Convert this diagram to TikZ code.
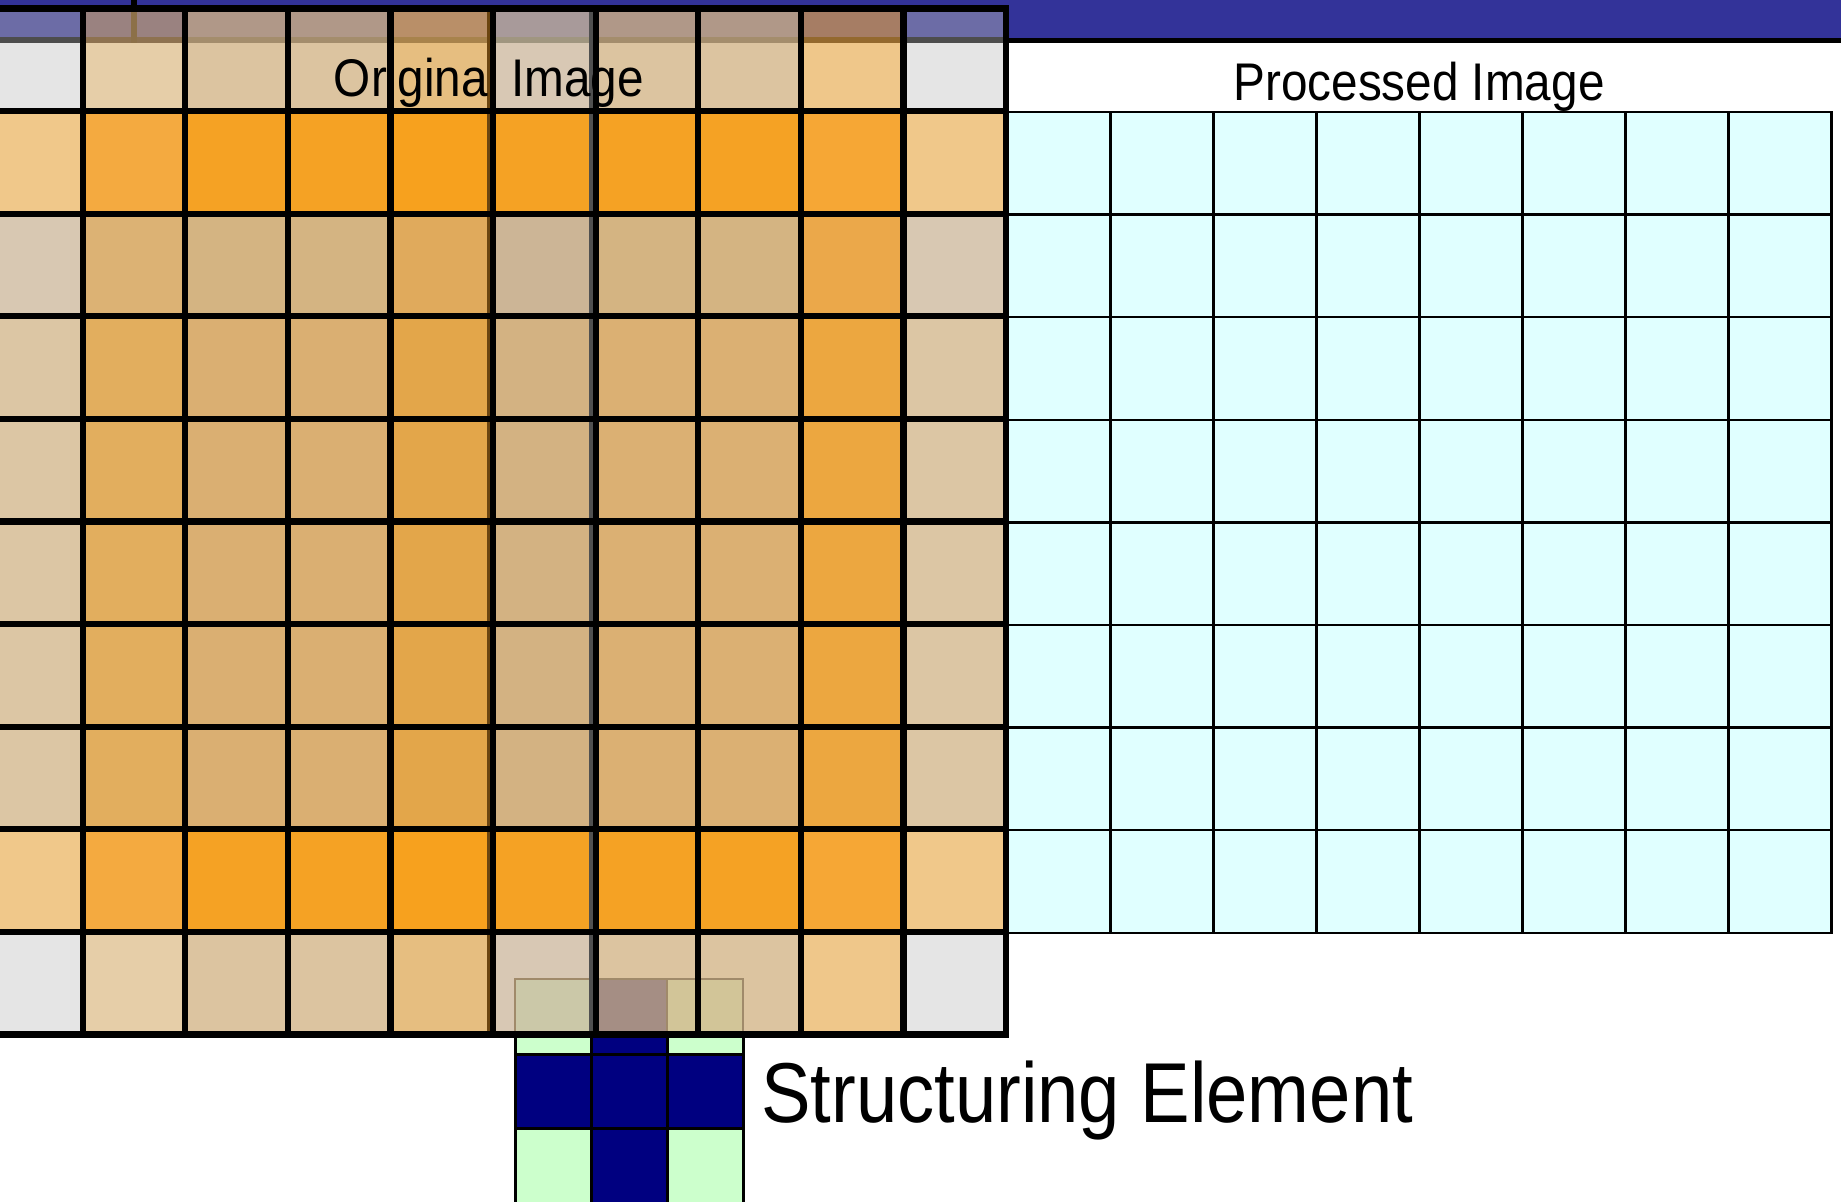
\documentclass[tikz,border=0pt]{standalone}
\usepackage{fontspec}
\setmainfont{Liberation Sans}
\definecolor{barblue}{HTML}{333399}
\definecolor{proccyan}{HTML}{E0FFFF}
\definecolor{senavy}{HTML}{000080}
\definecolor{segreen}{HTML}{CCFFCC}
\definecolor{cG}{HTML}{E5E5E5}
\definecolor{cT1}{HTML}{E6CEA8}
\definecolor{cT2}{HTML}{DCC4A0}
\definecolor{cT4}{HTML}{E6BE80}
\definecolor{cT5}{HTML}{D8C8B4}
\definecolor{cT8}{HTML}{EFC78A}
\definecolor{cO0}{HTML}{F0C88A}
\definecolor{cO1}{HTML}{F4AA40}
\definecolor{cO2}{HTML}{F5A224}
\definecolor{cO4}{HTML}{F7A11E}
\definecolor{cO8}{HTML}{F6A735}
\definecolor{cA0}{HTML}{D8C8B2}
\definecolor{cA1}{HTML}{DCB274}
\definecolor{cA2}{HTML}{D4B482}
\definecolor{cA4}{HTML}{E0AA5C}
\definecolor{cA5}{HTML}{CCB596}
\definecolor{cA8}{HTML}{EBA84A}
\definecolor{cB0}{HTML}{DCC6A4}
\definecolor{cB1}{HTML}{E2AE5E}
\definecolor{cB2}{HTML}{DAAF72}
\definecolor{cB4}{HTML}{E3A64A}
\definecolor{cB5}{HTML}{D3B282}
\definecolor{cB6}{HTML}{DBB073}
\definecolor{cB8}{HTML}{ECA740}
\definecolor{cU0}{HTML}{6C6CA6}
\definecolor{cU1}{HTML}{9A8280}
\definecolor{cU2}{HTML}{B09888}
\definecolor{cU4}{HTML}{B98F68}
\definecolor{cU5}{HTML}{A89A9A}
\definecolor{cU8}{HTML}{A67D64}
\definecolor{cV0}{HTML}{4D4D4D}
\definecolor{cV1}{HTML}{8E7250}
\definecolor{cV2}{HTML}{A48D6C}
\definecolor{cV4}{HTML}{A8834C}
\definecolor{cV5}{HTML}{A09680}
\definecolor{cV8}{HTML}{94692E}
\definecolor{ovA}{HTML}{CBC8A8}
\definecolor{ovB}{HTML}{A58E84}
\definecolor{ovC}{HTML}{D2C598}
\definecolor{ovLine}{HTML}{A08A6A}
\definecolor{shBrown}{HTML}{6B4510}
\definecolor{shGray}{HTML}{505050}
\definecolor{shTop}{HTML}{8C7048}
\newcommand{\orow}[2]{%
  \foreach \cc [count=\ii from 0] in {#2} {
    \fill[\cc] ({-20+102.6*\ii},{8.5+102.6*#1}) rectangle ++(102.6,102.6);
  }}
\tikzset{
  thickgrid/.style={line width=3.1pt, line cap=rect, black},
  procgrid/.style={fill=proccyan, draw=black, line width=1.15pt},
  segrid/.style={draw=black, line width=1.5pt},
  lbl/.style={inner sep=0pt, font=\fontsize{26.5}{30}\selectfont}
}
\begin{document}
\begin{tikzpicture}[x=0.5pt,y=-0.5pt]
\useasboundingbox (0,0) rectangle (1841,1202);
\fill[white] (0,0) rectangle (1841,1202);
% title bar
\fill[barblue] (0,0) rectangle (1841,40.5);
\draw[line width=2.6pt] (0,40.5) -- (1841,40.5);
\draw[line width=2.6pt] (134,0) -- (134,40.5);
% processed image grid
\foreach \i in {0,...,7} {
  \foreach \j in {0,...,7} {
    \draw[procgrid] ({1007.5+103*\i},{112+102.6*\j}) rectangle ++(103,102.6);
  }
}
% structuring element
\foreach \r/\yy/\hh in {0/979/75,1/1054/74,2/1128/80} {
  \foreach \c/\xx in {0/515,1/591,2/667} {
    \pgfmathsetmacro{\isnavy}{(\r==1 || \c==1) ? 1 : 0}
    \ifdim\isnavy pt>0.5pt
      \filldraw[segrid, fill=senavy] (\xx,\yy) rectangle ++(76,\hh);
    \else
      \filldraw[segrid, fill=segreen] (\xx,\yy) rectangle ++(76,\hh);
    \fi
  }
}
% original image cells
\orow{0}{cG,cT1,cT2,cT2,cT4,cT5,cT2,cT2,cT8,cG}
\orow{1}{cO0,cO1,cO2,cO2,cO4,cO2,cO2,cO2,cO8,cO0}
\orow{2}{cA0,cA1,cA2,cA2,cA4,cA5,cA2,cA2,cA8,cA0}
\orow{3}{cB0,cB1,cB2,cB2,cB4,cB5,cB6,cB6,cB8,cB0}
\orow{4}{cB0,cB1,cB2,cB2,cB4,cB5,cB6,cB6,cB8,cB0}
\orow{5}{cB0,cB1,cB2,cB2,cB4,cB5,cB6,cB6,cB8,cB0}
\orow{6}{cB0,cB1,cB2,cB2,cB4,cB5,cB6,cB6,cB8,cB0}
\orow{7}{cB0,cB1,cB2,cB2,cB4,cB5,cB6,cB6,cB8,cB0}
\orow{8}{cO0,cO1,cO2,cO2,cO4,cO2,cO2,cO2,cO8,cO0}
\orow{9}{cG,cT1,cT2,cT2,cT4,cT5,cT2,cT2,cT8,cG}
% part of the top row seen through the title bar
\foreach \cc [count=\ii from 0] in {cU0,cU1,cU2,cU2,cU4,cU5,cU2,cU2,cU8,cU0} {
  \fill[\cc] ({-20+102.6*\ii},8.5) rectangle ++(102.6,29);
}
\foreach \cc [count=\ii from 0] in {cV0,cV1,cV2,cV2,cV4,cV5,cV2,cV2,cV8,cV0} {
  \fill[\cc] ({-20+102.6*\ii},37.5) rectangle ++(102.6,6);
}
\fill[shTop] (131,8.5) rectangle (137,43.5);
% structuring element seen through the bottom row
\fill[ovA] (515,979) rectangle (591,1034.5);
\fill[ovB] (591,979) rectangle (667,1034.5);
\fill[ovC] (667,979) rectangle (743,1034.5);
\draw[ovLine, line width=1.2pt] (515,1034.5) -- (515,979) -- (743,979) -- (743,1034.5);
\draw[ovLine, line width=1.2pt] (591,979) -- (591,1034.5);
\draw[ovLine, line width=1.2pt] (667,979) -- (667,1034.5);
% shadow strips along two column lines
\fill[shBrown] (487,8.5) rectangle (493,1034.5);
\fill[shGray] (589,8.5) rectangle (595.6,1034.5);
% thick grid lines
\foreach \i in {0,...,10} {
  \draw[thickgrid] ({-20+102.6*\i},8.5) -- ({-20+102.6*\i},1034.5);
  \draw[thickgrid] (-20,{8.5+102.6*\i}) -- (1006,{8.5+102.6*\i});
}
% labels
\node[lbl, anchor=base] (orig) at (489,97) {\scalebox{0.9}[1]{Original Image}};
\node[lbl, anchor=base] (proc) at (1419,100.5) {\scalebox{0.9}[1]{Processed Image}};
\node[inner sep=0pt, anchor=base west, font=\fontsize{42.5}{48}\selectfont] (se) at (761,1122) {\scalebox{0.873}[1]{Structuring Element}};
\end{tikzpicture}
\end{document}
